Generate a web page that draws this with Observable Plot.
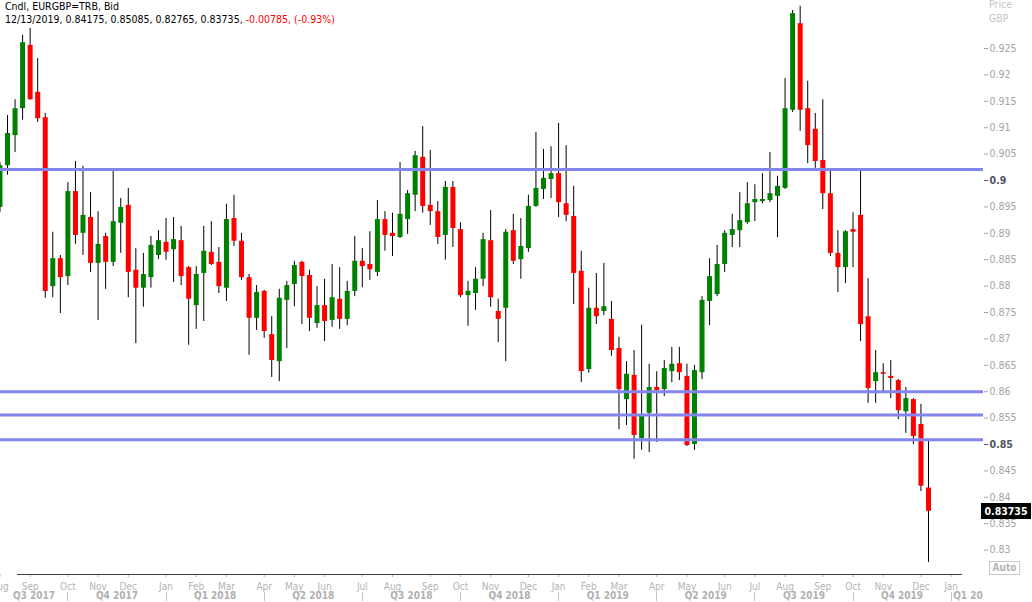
<!DOCTYPE html>
<html>
<head>
<meta charset="utf-8">
<script src="https://cdn.jsdelivr.net/npm/d3@7"></script>
<script src="https://cdn.jsdelivr.net/npm/@observablehq/plot@0.6"></script>
<style>
  html, body { margin: 0; padding: 0; background: #fff; }
  #wrap { position: relative; width: 1032px; height: 602px; overflow: hidden;
          font-family: "DejaVu Sans Condensed", "DejaVu Sans", sans-serif; }
  .ov { position: absolute; white-space: nowrap; }
</style>
</head>
<body>
<div id="wrap"></div>
<script>
// ---- data (weekly candles, EURGBP) ----
const weekStart = new Date(Date.UTC(2017, 7, 4));   // first weekly bar (Fri)
const weekEnd   = new Date(Date.UTC(2019, 11, 14)); // after last bar 12/13/2019
const open = [
0.8949,0.9028,0.9085,0.9136,0.9256,0.9167,0.9119,0.8799,0.8852,0.8818,
0.8979,0.8900,0.8930,0.8843,0.8894,0.8845,0.8919,0.8953,0.8830,0.8796,
0.8816,0.8858,0.8883,0.8869,0.8886,0.8835,0.8763,0.8824,0.8864,0.8845,
0.8796,0.8928,0.8885,0.8816,0.8739,0.8790,0.8708,0.8657,0.8773,0.8803,
0.8845,0.8820,0.8729,0.8763,0.8735,0.8775,0.8737,0.8790,0.8847,0.8841,
0.8826,0.8926,0.8900,0.8892,0.8926,0.8972,0.9044,0.8953,0.8941,0.8896,
0.8987,0.8907,0.8782,0.8786,0.8813,0.8886,0.8752,0.8758,0.8905,0.8850,
0.8871,0.8951,0.8983,0.9002,0.9013,0.8956,0.8932,0.8828,0.8642,0.8758,
0.8752,0.8737,0.8682,0.8585,0.8631,0.8511,0.8559,0.8608,0.8604,0.8638,
0.8653,0.8629,0.8500,0.8636,0.8771,0.8784,0.8841,0.8896,0.8905,0.8920,
0.8958,0.8960,0.8962,0.8970,0.8985,0.9133,0.9297,0.9136,0.9097,0.9038,
0.8975,0.8862,0.8835,0.8907,0.8934,0.8742,0.8619,0.8636,0.8629,0.8621,
0.8562,0.8585,0.8538,0.84175];
const high = [
0.9034,0.9123,0.9153,0.9275,0.9288,0.9231,0.9127,0.8902,0.8858,0.8996,
0.9036,0.9027,0.8977,0.8941,0.8900,0.9017,0.8966,0.8985,0.8871,0.8862,
0.8894,0.8905,0.8928,0.8930,0.8913,0.8837,0.8837,0.8913,0.8922,0.8873,
0.8955,0.8972,0.8900,0.8822,0.8801,0.8792,0.8742,0.8794,0.8809,0.8847,
0.8847,0.8830,0.8799,0.8813,0.8841,0.8835,0.8809,0.8894,0.8871,0.8903,
0.8962,0.8941,0.8938,0.9034,0.8981,0.9055,0.9102,0.9057,0.8960,0.8998,
0.8998,0.8920,0.8809,0.8835,0.8900,0.8943,0.8775,0.8907,0.8936,0.8928,
0.8972,0.9091,0.9059,0.9064,0.9108,0.9066,0.8989,0.8866,0.8796,0.8824,
0.8843,0.8771,0.8703,0.8657,0.8678,0.8726,0.8652,0.8638,0.8659,0.8684,
0.8684,0.8652,0.8650,0.8780,0.8852,0.8877,0.8905,0.8936,0.8977,0.8996,
0.8992,0.9013,0.9053,0.9008,0.9193,0.9322,0.9330,0.9188,0.9127,0.9153,
0.9019,0.8905,0.8905,0.8939,0.9019,0.8814,0.8678,0.8653,0.8659,0.8623,
0.8608,0.8587,0.8576,0.85085];
const low = [
0.8939,0.9010,0.9053,0.9114,0.9152,0.9110,0.8777,0.8778,0.8748,0.8801,
0.8879,0.8858,0.8826,0.8735,0.8794,0.8837,0.8862,0.8778,0.8691,0.8760,
0.8796,0.8850,0.8849,0.8807,0.8801,0.8688,0.8718,0.8733,0.8839,0.8786,
0.8771,0.8875,0.8811,0.8669,0.8716,0.8701,0.8627,0.8619,0.8682,0.8761,
0.8727,0.8714,0.8720,0.8695,0.8722,0.8718,0.8725,0.8780,0.8797,0.8811,
0.8818,0.8866,0.8856,0.8890,0.8898,0.8941,0.8938,0.8915,0.8879,0.8849,
0.8873,0.8778,0.8724,0.8754,0.8799,0.8760,0.8693,0.8657,0.8841,0.8813,
0.8864,0.8949,0.8964,0.8966,0.8930,0.8922,0.8765,0.8617,0.8635,0.8727,
0.8744,0.8667,0.8528,0.8536,0.8472,0.8489,0.8485,0.8504,0.8591,0.8617,
0.8621,0.8496,0.8489,0.8623,0.8725,0.8780,0.8826,0.8873,0.8873,0.8917,
0.8922,0.8956,0.8958,0.8892,0.8983,0.9129,0.9093,0.9032,0.9023,0.8945,
0.8856,0.8788,0.8805,0.8835,0.8695,0.8578,0.8578,0.8597,0.8587,0.8547,
0.8521,0.8500,0.8411,0.82765];
const close = [
0.9028,0.9089,0.9136,0.9261,0.9153,0.9117,0.8790,0.8852,0.8816,0.8979,
0.8896,0.8934,0.8843,0.8879,0.8845,0.8922,0.8949,0.8826,0.8796,0.8822,
0.8877,0.8886,0.8864,0.8888,0.8818,0.8775,0.8822,0.8866,0.8841,0.8799,
0.8926,0.8885,0.8816,0.8739,0.8788,0.8714,0.8659,0.8777,0.8801,0.8839,
0.8818,0.8739,0.8763,0.8733,0.8778,0.8737,0.8790,0.8847,0.8837,0.8831,
0.8926,0.8896,0.8894,0.8936,0.8975,0.9047,0.8951,0.8941,0.8892,0.8987,
0.8909,0.8782,0.8790,0.8813,0.8888,0.8778,0.8737,0.8902,0.8847,0.8875,
0.8951,0.8985,0.9004,0.9013,0.8958,0.8934,0.8824,0.8638,0.8758,0.8742,
0.8761,0.8678,0.8604,0.8633,0.8517,0.8555,0.8608,0.8602,0.8644,0.8652,
0.8636,0.8498,0.8640,0.8773,0.8818,0.8841,0.8900,0.8907,0.8924,0.8956,
0.8964,0.8964,0.8975,0.8989,0.9136,0.9316,0.9133,0.9066,0.9036,0.8975,
0.8862,0.8835,0.8903,0.8902,0.8727,0.8606,0.8636,0.8633,0.8625,0.8564,
0.8587,0.8515,0.8421,0.83735];
const levels = [0.9021, 0.8600, 0.8556, 0.8509];           // horizontal lines
const yTicks = [0.83,0.835,0.84,0.845,0.85,0.855,0.86,0.865,0.87,0.875,0.88,
                0.885,0.89,0.895,0.9,0.905,0.91,0.915,0.92,0.925];
const yTicksBold = [0.85, 0.9];
const monthLabels = ["Aug","Sep","Oct","Nov","Dec","Jan","Feb","Mar","Apr","May","Jun",
  "Jul","Aug","Sep","Oct","Nov","Dec","Jan","Feb","Mar","Apr","May","Jun","Jul","Aug",
  "Sep","Oct","Nov","Dec","Jan"];
const quarterLabels = ["Q3 2017","Q4 2017","Q1 2018","Q2 2018","Q3 2018","Q4 2018",
  "Q1 2019","Q2 2019","Q3 2019","Q4 2019","Q1 20"];
const headerTitle = "Cndl, EURGBP=TRB, Bid";
const headerValues = "12/13/2019, 0.84175, 0.85085, 0.82765, 0.83735, ";
const headerChange = "-0.00785, (-0.93%)";

// ---- build ----
const dates = d3.utcFriday.range(weekStart, weekEnd);
const data = dates.map((d, i) => ({date: d, open: open[i], high: high[i], low: low[i], close: close[i]}));
const up = data.filter(d => d.close >= d.open);
const down = data.filter(d => d.close < d.open);

const fridays = d3.utcFriday.range(weekStart, new Date(Date.UTC(2020, 0, 10)));
const monthTicks = fridays.filter((d, i) => i === 0 || d.getUTCMonth() !== fridays[i - 1].getUTCMonth());
const monthMap = new Map(monthTicks.map((d, i) => [+d, monthLabels[i]]));
const quarterTicks = monthTicks.filter(d => d.getUTCMonth() % 3 === 0);
const bounds = [monthTicks[0], ...quarterTicks];
const quarters = quarterLabels.slice(0, -1).map((label, k) => ({
  label, mid: new Date((+bounds[k] + +bounds[k + 1]) / 2)
}));
const lastQuarter = [{label: quarterLabels[quarterLabels.length - 1], at: bounds[bounds.length - 1]}];

const fmt = d => String(+d.toFixed(3));
const grey = "#a4a4a4";

const plot = Plot.plot({
  width: 1032, height: 602,
  marginTop: 0, marginLeft: 0, marginRight: 49, marginBottom: 28,
  style: {fontFamily: "'DejaVu Sans Condensed','DejaVu Sans',sans-serif", background: "transparent", overflow: "visible", color: grey},
  x: {type: "utc", domain: [dates[1], dates[dates.length - 1]], range: [7, 928]},
  y: {domain: [0.9, 0.83], range: [180, 549.6]},
  marks: [
    Plot.ruleX(data, {x: "date", y1: "low", y2: "high", stroke: "#000", strokeWidth: 1}),
    Plot.ruleX(up, {x: "date", y1: "open", y2: "close", stroke: "#008000", strokeWidth: 5}),
    Plot.ruleX(down, {x: "date", y1: "open", y2: "close", stroke: "#ff0000", strokeWidth: 5}),
    Plot.ruleY(levels, {stroke: "#8484ee", strokeWidth: 3}),
    Plot.axisY(yTicks.filter(t => !yTicksBold.includes(t)), {anchor: "right", tickSize: 4, tickPadding: 2,
      tickFormat: fmt, fontSize: 10.5, color: grey, label: null}),
    Plot.axisY(yTicksBold, {anchor: "right", tickSize: 4, tickPadding: 2,
      tickFormat: fmt, fontSize: 10.5, fontWeight: "bold", color: "#4e5462", label: null}),
    Plot.axisX(monthTicks, {anchor: "bottom", tickSize: 3, tickPadding: 5,
      tickFormat: d => monthMap.get(+d), fontSize: 10, color: "#b4b4b4", label: null}),
    Plot.text(quarters, {x: "mid", text: "label", frameAnchor: "bottom", dy: 24.5,
      fontSize: 10, fontWeight: "bold", fill: "#b0b0b0"}),
    Plot.text(lastQuarter, {x: "at", text: "label", frameAnchor: "bottom", dy: 24.5, dx: 2,
      textAnchor: "start", fontSize: 10, fontWeight: "bold", fill: "#b0b0b0"})
  ]
});

const wrap = document.getElementById("wrap");
wrap.appendChild(plot);

const xs = plot.scale("x"), ys = plot.scale("y");
const svg = d3.select(plot);
// axis baseline
svg.append("line")
  .attr("x1", Math.round(xs.apply(dates[2])) + 2).attr("x2", Math.round(xs.apply(monthTicks[monthTicks.length - 1])) + 11)
  .attr("y1", 574.5).attr("y2", 574.5).attr("stroke", "#404040").attr("stroke-width", 1);
// quarter separators
svg.append("g").selectAll("line").data(quarterTicks).join("line")
  .attr("x1", d => Math.round(xs.apply(d)) + 0.5).attr("x2", d => Math.round(xs.apply(d)) + 0.5)
  .attr("y1", 592).attr("y2", 601).attr("stroke", "#c4c4c4").attr("stroke-width", 1);

// header text
const h = document.createElement("div");
h.className = "ov";
h.style.cssText = "left:5px;top:0;font-size:10.5px;line-height:13px;color:#000;";
h.innerHTML = `<div>${headerTitle}</div><div>${headerValues}<span style="color:#f00">${headerChange}</span></div>`;
wrap.appendChild(h);

// price axis header
const p = document.createElement("div");
p.className = "ov";
p.style.cssText = "left:989px;top:-3px;font-size:10.5px;line-height:14px;color:#c4c4c4;";
p.innerHTML = "Price<br>GBP";
wrap.appendChild(p);

// last price tag
const last = data[data.length - 1];
const tag = document.createElement("div");
tag.className = "ov";
tag.style.cssText = `left:981px;top:${ys.apply(last.close) - 8}px;width:50px;height:16px;line-height:16px;background:#000;color:#fff;font-weight:bold;font-size:10.5px;text-align:center;`;
tag.textContent = last.close.toFixed(5);
wrap.appendChild(tag);

// auto box
const a = document.createElement("div");
a.className = "ov";
a.style.cssText = "left:989px;top:561px;width:29px;height:12px;line-height:12px;border:1px solid #c8c8c8;color:#b4b4b4;font-size:10px;font-weight:bold;text-align:center;";
a.textContent = "Auto";
wrap.appendChild(a);
</script>
</body>
</html>
